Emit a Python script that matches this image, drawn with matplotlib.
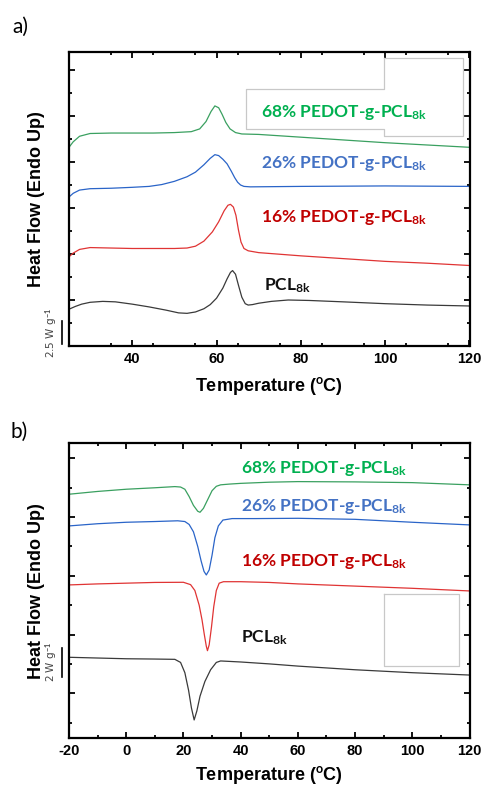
import numpy as np
import matplotlib
matplotlib.use('Agg')
import matplotlib.pyplot as plt
from matplotlib.lines import Line2D
from matplotlib.transforms import blended_transform_factory

plt.rcParams['font.family'] = ['Liberation Sans', 'DejaVu Sans']
plt.rcParams['axes.unicode_minus'] = False
plt.rcParams['mathtext.fontset'] = 'custom'
plt.rcParams['mathtext.rm'] = 'Lato:bold'
plt.rcParams['mathtext.bf'] = 'Lato:bold'
plt.rcParams['mathtext.it'] = 'Lato:bold:italic'

# ---- a) heating curves, y in W/g (offset) ----
a_pcl_x = [25, 26.5, 28, 30, 33, 36, 40, 44, 48, 51, 53, 55, 57, 58.5, 60, 61.5, 62.5, 63.3, 63.8,
           64.5, 65.2, 66, 66.8, 67.5, 68.5, 70, 73, 77, 82, 90, 100, 110, 120]
a_pcl_y = [4.0, 4.3, 4.55, 4.75, 4.85, 4.8, 4.55, 4.25, 3.9, 3.6, 3.55, 3.7, 4.05, 4.5, 5.2, 6.3, 7.3, 8.0, 8.2,
           7.8, 6.6, 5.3, 4.6, 4.45, 4.5, 4.65, 4.85, 5.0, 4.95, 4.8, 4.6, 4.45, 4.35]
a_16_x = [25, 26, 27.5, 30, 35, 40, 45, 50, 53, 55, 57, 59, 60.5, 61.8, 62.7, 63.3, 64, 64.6, 65.2,
          65.8, 66.5, 67.5, 70, 80, 90, 100, 110, 120]
a_16_y = [9.7, 10.1, 10.5, 10.7, 10.65, 10.6, 10.6, 10.6, 10.65, 10.85, 11.4, 12.4, 13.5, 14.7, 15.3, 15.4, 15.1, 14.2, 12.6,
          11.3, 10.6, 10.35, 10.15, 9.8, 9.5, 9.2, 9.0, 8.75]
a_26_x = [25, 26, 27.5, 30, 35, 40, 44, 47, 50, 53, 55, 57, 58.5, 59.6, 60.5, 61.5, 62.5, 63.5, 64.3,
          65, 65.7, 66.5, 68, 80, 100, 120]
a_26_y = [16.2, 16.6, 16.95, 17.1, 17.15, 17.25, 17.35, 17.55, 17.9, 18.4, 18.9, 19.7, 20.4, 20.8, 20.7, 20.3, 19.8, 19.0, 18.3,
          17.8, 17.5, 17.35, 17.3, 17.35, 17.4, 17.35]
a_68_x = [25, 26, 27.5, 30, 35, 40, 45, 50, 54, 56, 57.5, 58.7, 59.6, 60.5, 61.3, 62.2, 63.2, 64.5,
          66, 70, 80, 90, 100, 110, 120]
a_68_y = [21.6, 22.2, 22.8, 23.1, 23.15, 23.15, 23.15, 23.2, 23.3, 23.6, 24.4, 25.5, 26.1, 25.9, 25.2, 24.3, 23.6, 23.2,
          23.05, 23.0, 22.7, 22.4, 22.1, 21.85, 21.6]

# ---- b) cooling curves ----
b_pcl_x = [-20, -10, 0, 10, 17, 19, 20.5, 21.8, 22.8, 23.75, 24.7, 25.8, 27.5, 29.5, 31.5, 33, 40, 50, 60, 80, 100, 120]
b_pcl_y = [2.45, 2.4, 2.35, 2.33, 2.31, 2.1, 1.4, 0.2, -1.0, -1.82, -1.2, -0.2, 0.8, 1.6, 2.1, 2.2, 2.13, 2.0, 1.85, 1.6, 1.4, 1.24]
b_16_x = [-20, -10, 0, 10, 20, 22.5, 24, 25.5, 26.5, 27.3, 28, 28.4, 29, 29.8, 30.6, 31.5, 32.5, 34, 40, 50, 60, 80, 100, 120]
b_16_y = [7.38, 7.45, 7.5, 7.55, 7.56, 7.4, 7.0, 6.0, 5.0, 4.0, 3.2, 2.9, 3.3, 4.5, 5.9, 7.0, 7.5, 7.6, 7.6, 7.55, 7.45, 7.3, 7.15, 6.97]
b_26_x = [-20, -10, 0, 10, 18, 20.5, 22, 23.5, 25, 26.2, 27.2, 28, 29, 30, 31, 32.2, 33.8, 37, 45, 60, 80, 100, 120]
b_26_y = [11.4, 11.55, 11.65, 11.7, 11.75, 11.7, 11.5, 11.0, 10.0, 9.0, 8.3, 8.06, 8.4, 9.4, 10.6, 11.4, 11.8, 11.9, 11.9, 11.92, 11.85, 11.65, 11.47]
b_68_x = [-20, -10, 0, 10, 17, 19, 20.5, 22, 23.5, 25, 25.8, 27, 28.5, 30, 31.5, 33, 36, 40, 50, 60, 80, 100, 120]
b_68_y = [13.56, 13.75, 13.9, 14.0, 14.08, 14.05, 13.9, 13.4, 12.8, 12.4, 12.33, 12.6, 13.2, 13.8, 14.1, 14.2, 14.25, 14.3, 14.38, 14.42, 14.4, 14.35, 14.2]

names = ['PCL$_{\\mathrm{8k}}$', '16% PEDOT-g-PCL$_{\\mathrm{8k}}$',
         '26% PEDOT-g-PCL$_{\\mathrm{8k}}$', '68% PEDOT-g-PCL$_{\\mathrm{8k}}$']
line_colors = ['#3a3a3a', '#e03434', '#2a64c8', '#3aa060']
text_colors = ['#111111', '#c00000', '#4472c4', '#00b050']

a_series = [(a_pcl_x, a_pcl_y), (a_16_x, a_16_y), (a_26_x, a_26_y), (a_68_x, a_68_y)]
b_series = [(b_pcl_x, b_pcl_y), (b_16_x, b_16_y), (b_26_x, b_26_y), (b_68_x, b_68_y)]
a_label_pos = [(71.2, 6.1), (70.5, 13.45), (70.5, 19.4), (70.5, 24.9)]
b_label_pos = [(40.1, 3.47), (40.1, 8.7), (40.1, 12.44), (40.1, 14.99)]

W, H = 483, 787
fig = plt.figure(figsize=(W / 100, H / 100), dpi=100)


def setup(ax, xlim, ylim, xmajor, ymajor, ymin_ticks):
    ax.set_xlim(*xlim)
    ax.set_ylim(*ylim)
    ax.set_xticks(xmajor, labels=[str(v) for v in xmajor], fontweight='bold')
    ax.set_xticks(np.arange(xlim[0], xlim[1] + 1, 10), minor=True)
    ax.set_yticks(ymajor)
    ax.set_yticks(ymin_ticks, minor=True)
    ax.set_yticklabels([])
    for s in ax.spines.values():
        s.set_linewidth(1.6)
    ax.tick_params(which='both', direction='in', top=True, right=True, width=1.3)
    ax.tick_params(which='major', length=4.5, labelsize=10.5, pad=4)
    ax.tick_params(which='minor', length=2.5)
    ax.set_xlabel('Temperature ($^{\\mathrm{o}}$C)', fontsize=13, fontweight='bold')
    ax.set_ylabel('Heat Flow (Endo Up)', fontsize=13, fontweight='bold')
    ax.yaxis.set_label_coords(-0.061, 0.5)


# panel a
ax1 = fig.add_axes([69 / W, 1 - 346 / H, 400.5 / W, 294 / H])
setup(ax1, (25, 120), (0, 31.96), [40, 60, 80, 100, 120],
      [5, 10, 15, 20, 25, 30], [2.5, 7.5, 12.5, 17.5, 22.5, 27.5])
ax1.xaxis.set_label_coords(0.5, -0.097)
for (x, y), c in zip(a_series, line_colors):
    ax1.plot(x, y, color=c, lw=0.9)
for n, (lx, ly), c in zip(names, a_label_pos, text_colors):
    ax1.text(lx, ly, n, color=c, fontsize=12.5, fontfamily='Lato', fontweight='bold', va='baseline')

# panel b
ax2 = fig.add_axes([69 / W, 1 - 738.3 / H, 400.5 / W, 295 / H])
setup(ax2, (-20, 120), (-3.07, 17.03), [-20, 0, 20, 40, 60, 80, 100, 120],
      [0, 4, 8, 12, 16], [-2, 2, 6, 10, 14])
ax2.xaxis.set_label_coords(0.5, -0.088)
for (x, y), c in zip(b_series, line_colors):
    ax2.plot(x, y, color=c, lw=0.9)
for n, (lx, ly), c in zip(names, b_label_pos, text_colors):
    ax2.text(lx, ly, n, color=c, fontsize=12.5, fontfamily='Lato', fontweight='bold', va='baseline')

# scale bars
for ax, (y0, y1), lab in [(ax1, (0.2, 2.7), '2.5 W g$^{-1}$'), (ax2, (1.1, 3.1), '2 W g$^{-1}$')]:
    tr = blended_transform_factory(ax.transAxes, ax.transData)
    ax.add_line(Line2D([-0.017, -0.017], [y0, y1], transform=tr, color='k', lw=1.2, clip_on=False))
    ax.text(-0.042, (y0 + y1) / 2, lab, transform=tr, rotation=90, fontsize=7.5,
            color='#444444', ha='center', va='center', fontfamily='DejaVu Sans')

# leftover grey frames
gray = '#c8c8c8'
poly_a = [(384, 58.3), (462.7, 58.3), (462.7, 136), (384, 136), (384, 129), (245.7, 129),
          (245.7, 89.3), (384, 89.3), (384, 58.3)]
poly_b = [(384.3, 594), (459.3, 594), (459.3, 666), (384.3, 666), (384.3, 594)]
for poly in (poly_a, poly_b):
    xs = [p[0] / W for p in poly]
    ys = [1 - p[1] / H for p in poly]
    fig.add_artist(Line2D(xs, ys, color=gray, lw=0.9, transform=fig.transFigure))

fig.text(12 / W, 1 - 27 / H, 'a)', fontsize=15, va='center', fontfamily='Lato')
fig.text(10 / W, 1 - 432 / H, 'b)', fontsize=15, va='center', fontfamily='Lato')

fig.savefig('out.png', dpi=100)
